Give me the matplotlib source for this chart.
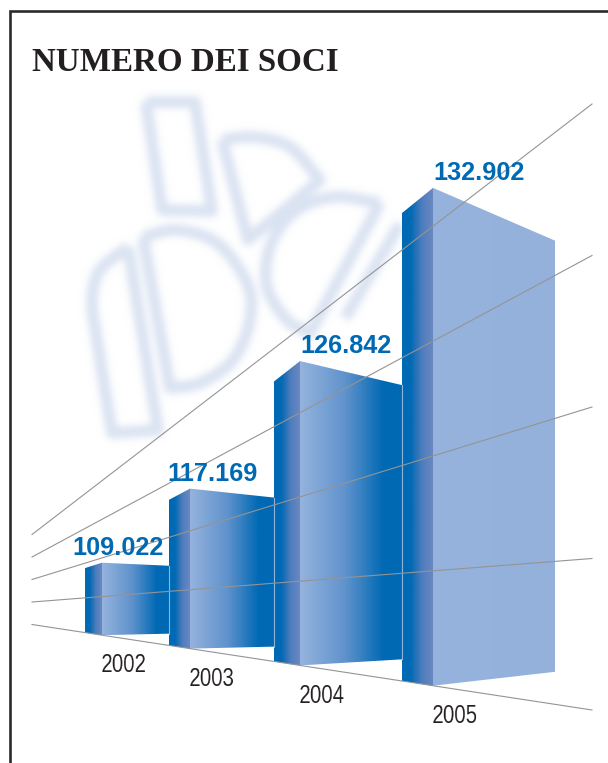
import numpy as np
import matplotlib
matplotlib.use("Agg")
from matplotlib import pyplot as plt
from matplotlib.colors import LinearSegmentedColormap, to_rgb
from matplotlib.path import Path
from matplotlib.patches import PathPatch, Polygon

years = ["2002", "2003", "2004", "2005"]
soci = [109022, 117169, 126842, 132902]
grid_values = [90000, 100000, 110000, 120000, 130000]

# bar layout on the page, in pixels
left_x = [85, 169, 274, 402]
corner_x = [102, 190, 300, 433]
right_x = [169, 274, 402, 555]
left_ratio = [0.89, 0.91, 0.92, 0.94]
top_drop = [0.042, 0.056, 0.079, 0.106]
bottom_rise = [0.021, 0.0125, 0.02, 0.028]
top_shift = [1, 0, 6, -5]
label_x = [72, 167, 300, 433]
label_y = [555, 481, 353, 180]
year_y = [672, 686, 703, 723]

GRID_X0, GRID_X1 = 32, 592
BLUE = "#0069b4"
LIGHT = "#95b3dd"
SIDE = "#6a88c2"
LOGO = "#dae3f2"

side_cmap = LinearSegmentedColormap.from_list(
    "side", [(0, BLUE), (0.28, BLUE), (0.65, "#4f7dbd"), (1, SIDE)])
face_cmap = LinearSegmentedColormap.from_list(
    "face", [(0, LIGHT), (0.45, "#5f92cc"), (0.82, BLUE), (1, BLUE)])
flat_cmap = LinearSegmentedColormap.from_list("flat", [LIGHT, "#93b1db"])


def project(x, value):
    """Page y of a value at page x, the value planes fan out to the right"""
    t = (x - GRID_X0) / (GRID_X1 - GRID_X0)
    base = 624.5 + t * (710 - 624.5)
    step = 22.5 + t * (151.5 - 22.5)
    return base - (value - grid_values[0]) / 10000 * step


def smooth(points, n=14):
    """Catmull-Rom through the outline points"""
    p = np.array(points, dtype=float)
    p = np.vstack([2 * p[0] - p[1], p, 2 * p[-1] - p[-2]])
    out = []
    for i in range(1, len(p) - 2):
        for t in np.linspace(0, 1, n, endpoint=False):
            out.append(0.5 * (2 * p[i] + (p[i + 1] - p[i - 1]) * t
                              + (2 * p[i - 1] - 5 * p[i] + 4 * p[i + 1] - p[i + 2]) * t ** 2
                              + (3 * p[i] - p[i - 1] - 3 * p[i + 1] + p[i + 2]) * t ** 3))
    out.append(p[-2])
    return np.array(out)


def blur_alpha(sigma):
    """agg_filter that softens an artist by blurring its alpha channel"""
    def _filter(img, dpi):
        pad = int(3 * sigma)
        x = np.arange(-pad, pad + 1)
        kernel = np.exp(-x ** 2 / (2 * sigma ** 2))
        kernel /= kernel.sum()
        out = np.zeros((img.shape[0] + 2 * pad, img.shape[1] + 2 * pad, 4))
        out[pad:-pad, pad:-pad, 3] = img[:, :, 3]
        alpha = np.apply_along_axis(np.convolve, 0, out[:, :, 3], kernel, mode="same")
        alpha = np.apply_along_axis(np.convolve, 1, alpha, kernel, mode="same")
        out[:, :, :3] = to_rgb(LOGO)
        out[:, :, 3] = alpha
        return out, -pad, -pad
    return _filter


def squeeze_x(factor):
    """agg_filter that narrows a text, no condensed face is installed"""
    def _filter(img, dpi):
        w = img.shape[1]
        new_w = max(int(round(w * factor)), 1)
        xs = np.linspace(0, w - 1, new_w)
        out = np.zeros((img.shape[0], new_w, 4))
        for row in range(img.shape[0]):
            for c in range(4):
                out[row, :, c] = np.interp(xs, np.arange(w), img[row, :, c])
        return out, 0, 0
    return _filter


def draw_logo(ax):
    outlines = [
        np.array([(146, 102), (195, 102), (212, 211), (162, 210), (146, 102)], dtype=float),
        np.vstack([smooth([(222, 140), (253, 137), (290, 147), (320, 180)]),
                   [(248, 240), (222, 140)]]),
        np.vstack([smooth([(143, 237), (177, 230), (217, 243), (247, 283),
                           (250, 320), (233, 360), (200, 383), (170, 388)]),
                   [(143, 237)]]),
        np.vstack([smooth([(128, 247), (100, 270), (92, 300), (97, 340), (112, 433)]),
                   [(158, 430), (128, 247)]]),
        np.vstack([smooth([(380, 203), (333, 197), (293, 213), (270, 247),
                           (267, 287), (287, 320), (310, 333)]),
                   [(380, 203)]]),
        np.array([(400, 224), (345, 318)], dtype=float),
    ]
    verts, codes = [], []
    for o in outlines:
        verts.extend(o)
        codes.extend([Path.MOVETO] + [Path.LINETO] * (len(o) - 1))
    patch = PathPatch(Path(verts, codes), fill=False, edgecolor=LOGO, lw=8.5,
                      joinstyle="round", zorder=1)
    patch.set_agg_filter(blur_alpha(3.6))
    ax.add_patch(patch)


def draw_panel(ax, x0, x1, poly, cmap):
    """Horizontal gradient clipped to a bar panel"""
    gradient = np.linspace(0, 1, 256).reshape(1, -1)
    top, bottom = min(p[1] for p in poly), max(p[1] for p in poly)
    im = ax.imshow(gradient, extent=(x0, x1, bottom, top), cmap=cmap, aspect="auto",
                   interpolation="bilinear", zorder=2)
    im.set_clip_path(Polygon(poly, transform=ax.transData))


def draw_bar(ax, i):
    x0, xc, x1 = left_x[i], corner_x[i], right_x[i]
    base_c = project(xc, grid_values[0])
    top_c = project(xc, soci[i]) + top_shift[i]
    height = base_c - top_c
    base_l = project(x0, grid_values[0])
    top_l = base_l - height * left_ratio[i]
    top_r = top_c + height * top_drop[i]
    base_r = base_c - height * bottom_rise[i]

    side = [(x0, top_l), (xc, top_c), (xc, base_c), (x0, base_l)]
    face = [(xc, top_c), (x1, top_r), (x1, base_r), (xc, base_c)]
    draw_panel(ax, x0, xc, side, side_cmap)
    draw_panel(ax, xc, x1, face, flat_cmap if i == len(soci) - 1 else face_cmap)
    if i < len(soci) - 1:
        ax.plot([x1, x1], [top_r, base_r], color="#8fb4da", lw=0.8, zorder=3)

    ax.text(label_x[i], label_y[i], f"{soci[i]:,}".replace(",", "."), color=BLUE, fontsize=18.2,
            fontweight="bold", family="Liberation Sans", ha="left", va="baseline", zorder=5)
    year = ax.text(xc - 1, year_y[i], years[i], color="#231f20", fontsize=18.8,
                   family="Liberation Sans", ha="left", va="baseline", zorder=5)
    year.set_agg_filter(squeeze_x(0.78))


fig = plt.figure(figsize=(6.08, 7.63), dpi=100)
ax = fig.add_axes([0, 0, 1, 1])

draw_logo(ax)
for i in range(len(soci)):
    draw_bar(ax, i)

# value planes run over the bars
for v in grid_values:
    ax.plot([GRID_X0, GRID_X1], [project(GRID_X0, v), project(GRID_X1, v)],
            color="#949494", lw=0.8, zorder=4)

# frame open on the right
ax.plot([9.5, 9.5, 608], [763, 11, 11], color="#2b2a2a", lw=1.9, solid_joinstyle="miter", zorder=6)

ax.text(32, 71, "NUMERO DEI SOCI", color="#231f20", fontsize=23.8, fontweight="bold",
        family="Liberation Serif", ha="left", va="baseline", zorder=5)

ax.set_xlim(0, 608)
ax.set_ylim(763, 0)
ax.axis("off")

fig.savefig("out.png", dpi=100)
plt.close()
